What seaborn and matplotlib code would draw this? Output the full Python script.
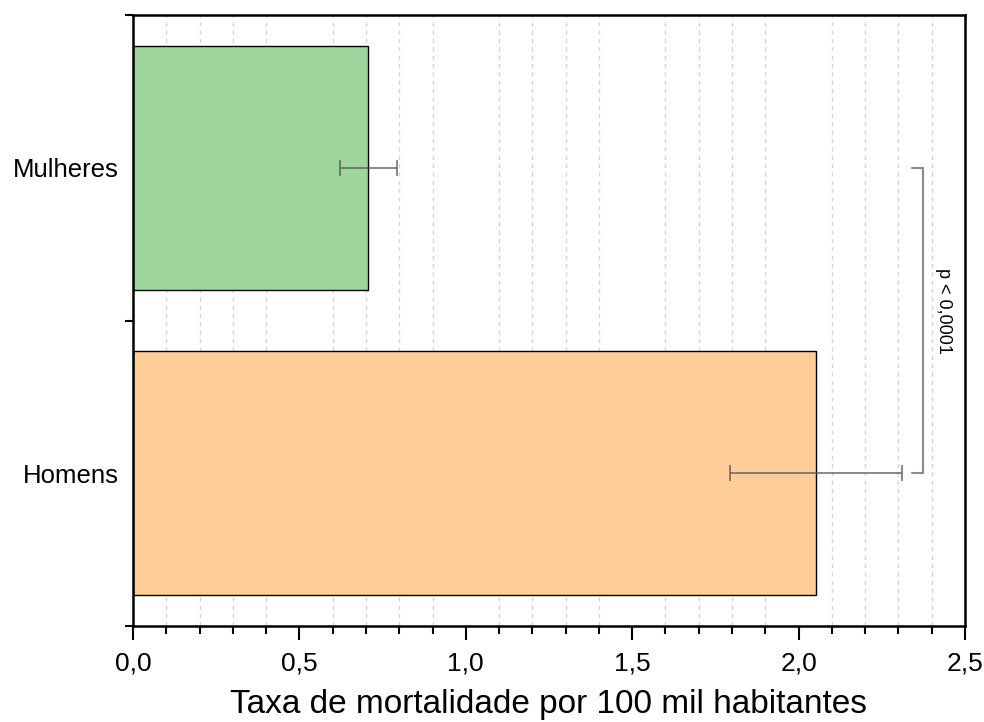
import matplotlib
matplotlib.use("Agg")
import matplotlib.pyplot as plt
import seaborn as sns
import pandas as pd
import numpy as np
from matplotlib.ticker import MultipleLocator, FixedLocator

categories = ["Mulheres", "Homens"]
values = [0.707, 2.051]
err_low = [0.621, 1.793]
err_high = [0.794, 2.310]
colors = ["#9dd59a", "#fecc96"]
xtick_vals = [0.0, 0.5, 1.0, 1.5, 2.0, 2.5]
xtick_labels = ["0,0", "0,5", "1,0", "1,5", "2,0", "2,5"]
p_text = "p < 0,0001"
bracket_x = 2.373
bracket_arm = 2.34
xlabel = "Taxa de mortalidade por 100 mil habitantes"

sns.set_style("white", {"text.color": "black", "axes.labelcolor": "black",
                        "xtick.color": "black", "ytick.color": "black",
                        "axes.edgecolor": "black"})
plt.rcParams['font.family'] = ['Liberation Sans', 'DejaVu Sans']

df = pd.DataFrame({"cat": categories, "val": values})

fig = plt.figure(figsize=(9.84, 7.22), dpi=100)
ax = fig.add_axes([133/984, 1-626/722, (965-133)/984, (626-15)/722])

sns.barplot(data=df, x="val", y="cat", hue="cat", palette=colors, order=categories,
            hue_order=categories, orient="h", width=0.8, errorbar=None,
            saturation=1, edgecolor="black", linewidth=1.0, legend=False,
            ax=ax, zorder=2)

ypos = np.arange(len(categories))
vals = np.array(values)
xerr = np.vstack([vals - np.array(err_low), np.array(err_high) - vals])
ax.errorbar(vals, ypos, xerr=xerr, fmt="none", ecolor="#555555", alpha=0.75,
            elinewidth=1.3, capsize=6, capthick=1.3, zorder=3)

# significance bracket
ax.plot([bracket_arm, bracket_x, bracket_x, bracket_arm], [0, 0, 1, 1],
        color="#8a8a8a", lw=1.5, zorder=3)
ax.text(bracket_x + 0.062, 0.47, p_text, rotation=270, ha="center", va="center",
        fontsize=13, color="black")

ax.set_xlim(0, 2.5)
ax.set_ylim(1.5, -0.5)

ax.xaxis.set_major_locator(FixedLocator(xtick_vals))
ax.set_xticklabels(xtick_labels, fontsize=19, color="black")
ax.xaxis.set_minor_locator(MultipleLocator(0.1))
ax.tick_params(axis="x", which="major", direction="out", length=10, width=1.5,
               bottom=True, top=False, pad=8, colors="black")
ax.tick_params(axis="x", which="minor", direction="out", length=6, width=1.5,
               bottom=True, top=False, colors="black")

# y: labels at category centers, ticks at boundaries
ax.set_yticks(ypos)
ax.set_yticklabels(categories, fontsize=18.5, color="black")
ax.yaxis.set_minor_locator(FixedLocator([-0.5, 0.5, 1.5]))
ax.tick_params(axis="y", which="major", length=0, pad=10, colors="black")
ax.tick_params(axis="y", which="minor", direction="out", length=6, width=1.5,
               left=True, colors="black")

# grid only at minor x positions (skip majors)
minor_grid = [v/10 for v in range(1, 25) if v % 5 != 0]
for gx in minor_grid:
    ax.axvline(gx, color="#d4d4d4", lw=1.0, ls=(0, (3, 3)), zorder=0)

for s in ax.spines.values():
    s.set_visible(True)
    s.set_color("black")
    s.set_linewidth(1.8)

ax.set_ylabel("")
ax.set_xlabel(xlabel, fontsize=24, labelpad=10, color="black")

fig.savefig("out.png", dpi=100)
